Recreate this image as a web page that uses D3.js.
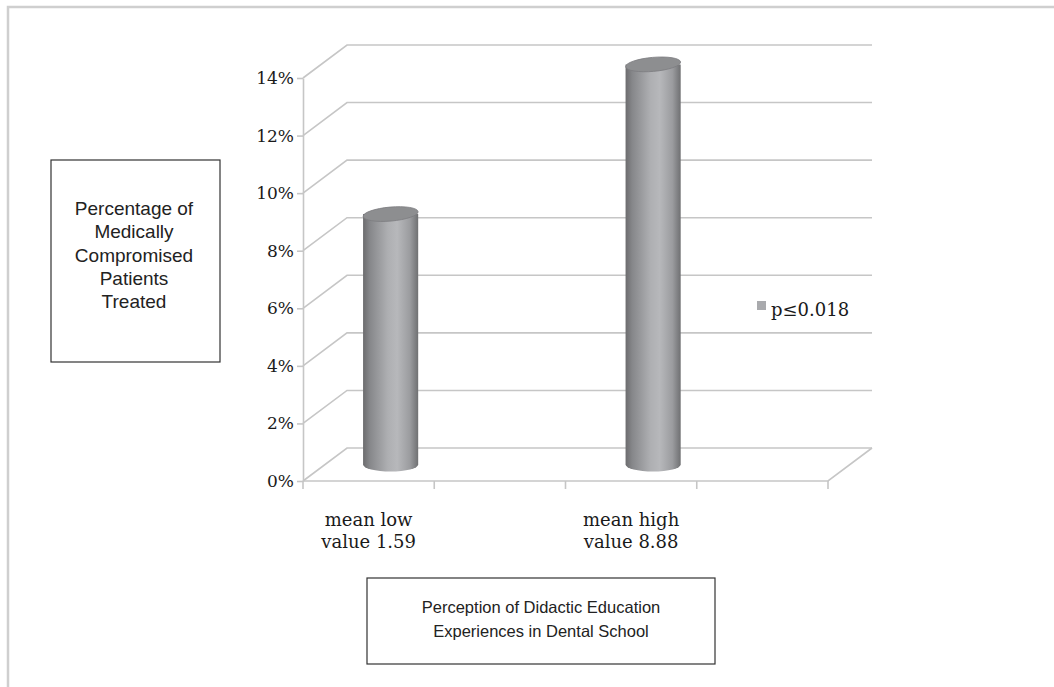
<!DOCTYPE html>
<html>
<head>
<meta charset="utf-8">
<script src="https://cdn.jsdelivr.net/npm/d3@7/dist/d3.min.js"></script>
<style>
  html, body { margin: 0; padding: 0; background: #fff; }
  svg { display: block; }
</style>
</head>
<body>
<svg id="chart" width="1054" height="687"></svg>
<script>
// ---- data ----
const categories = ["mean low|value 1.59", "", "mean high|value 8.88", ""];
const values = [0.087, null, 0.139, null];
const yTicks = [0, 0.02, 0.04, 0.06, 0.08, 0.10, 0.12, 0.14];
const seriesName = "p\u22640.018";
const yTitleLines = ["Percentage of", "Medically", "Compromised", "Patients", "Treated"];
const xTitleLines = ["Perception of Didactic Education", "Experiences in Dental School"];

// ---- layout ----
const svg = d3.select("#chart");
const X0 = 303, X1 = 828, Y0 = 481, Y1 = 78;
const DX = 44, DY = -33;           // 3D depth offset
const grid = "#c6c6c6";
const serif = "'DejaVu Serif', serif";
const sans = "'Liberation Sans', Arial, sans-serif";

const idx = categories.map((d, i) => i);
const x = d3.scaleBand().domain(idx).range([X0, X1]).padding(0);
const y = d3.scaleLinear().domain([0, 0.14]).range([Y0, Y1]);

// outer frame
svg.append("rect").attr("x", 8).attr("y", 7).attr("width", 1080).attr("height", 700)
  .attr("fill", "none").attr("stroke", "#cfcfcf").attr("stroke-width", 2.5);

// gradient for cylinders
const defs = svg.append("defs");
const g = defs.append("linearGradient").attr("id", "cyl").attr("x1", "0").attr("x2", "1").attr("y1", "0").attr("y2", "0");
[[0, "#6c6c6e"], [0.12, "#86878a"], [0.45, "#aeafb2"], [0.62, "#b7b8bb"], [0.85, "#9b9c9f"], [1, "#6f7072"]]
  .forEach(([o, c]) => g.append("stop").attr("offset", o).attr("stop-color", c));

// back wall & left wall gridlines
const gl = svg.append("g");
yTicks.forEach(t => {
  const yy = y(t);
  gl.append("polyline")
    .attr("points", `${X0},${yy} ${X0 + DX},${yy + DY} ${X1 + DX},${yy + DY}`)
    .attr("fill", "none").attr("stroke", grid).attr("stroke-width", 1.6);
});
// floor front edge & right edge
gl.append("polyline")
  .attr("points", `${X0},${Y0} ${X1},${Y0} ${X1 + DX},${Y0 + DY}`)
  .attr("fill", "none").attr("stroke", grid).attr("stroke-width", 1.6);

// y axis
const yAxis = svg.append("g").attr("transform", `translate(${X0},0)`)
  .call(d3.axisLeft(y).tickValues(yTicks).tickFormat(d3.format(".0%")).tickSize(6).tickSizeOuter(0).tickPadding(3));
yAxis.select(".domain").attr("stroke", grid).attr("stroke-width", 1.6);
yAxis.selectAll(".tick line").attr("stroke", grid).attr("stroke-width", 1.6);
yAxis.selectAll(".tick text").attr("font-family", serif).attr("font-size", 17).attr("fill", "#1a1a1a");

// category ticks at band boundaries
const bounds = idx.map(i => x(i)).concat([X1]);
svg.append("g").selectAll("line").data(bounds).join("line")
  .attr("x1", d => d).attr("x2", d => d).attr("y1", Y0).attr("y2", Y0 + 8)
  .attr("stroke", grid).attr("stroke-width", 1.6);

// category labels
const cl = svg.append("g");
categories.forEach((c, i) => {
  if (!c) return;
  const t = cl.append("text").attr("text-anchor", "middle")
    .attr("font-family", serif).attr("font-size", 18).attr("fill", "#1a1a1a");
  c.split("|").forEach((line, k) => {
    t.append("tspan").attr("x", x(i) + x.bandwidth() / 2).attr("y", 526 + k * 22).text(line);
  });
});

// cylinders
const bw = x.bandwidth() * 0.42, rx = bw / 2, ry = 7;
const bars = svg.append("g");
values.forEach((v, i) => {
  if (v == null) return;
  const cx = x(i) + x.bandwidth() / 2 + DX / 2;
  const topY = y(v) + DY / 2;
  const botY = y(0) + DY / 2;
  bars.append("path")
    .attr("d", `M${cx - rx},${topY} L${cx - rx},${botY} A${rx},${ry} 0 0 0 ${cx + rx},${botY} L${cx + rx},${topY} Z`)
    .attr("fill", "url(#cyl)");
  bars.append("ellipse")
    .attr("cx", cx).attr("cy", topY).attr("rx", rx).attr("ry", ry)
    .attr("transform", `rotate(-5,${cx},${topY})`)
    .attr("fill", "#8d8e90").attr("stroke", "#7c7d80").attr("stroke-width", 0.8);
});

// legend
const lg = svg.append("g");
lg.append("rect").attr("x", 757).attr("y", 301).attr("width", 9).attr("height", 9).attr("fill", "#a9aaad");
lg.append("text").attr("x", 771).attr("y", 316).attr("font-family", serif).attr("font-size", 18)
  .attr("fill", "#1a1a1a").text(seriesName);

// y title box
svg.append("rect").attr("x", 51).attr("y", 160).attr("width", 169).attr("height", 202)
  .attr("fill", "#fff").attr("stroke", "#333").attr("stroke-width", 1.2);
const yt = svg.append("text").attr("text-anchor", "middle").attr("font-family", sans)
  .attr("font-size", 19).attr("fill", "#222");
yTitleLines.forEach((l, k) => yt.append("tspan").attr("x", 134).attr("y", 215 + k * 23.3).text(l));

// x title box
svg.append("rect").attr("x", 367).attr("y", 578).attr("width", 348).attr("height", 86)
  .attr("fill", "#fff").attr("stroke", "#333").attr("stroke-width", 1.2);
const xt = svg.append("text").attr("text-anchor", "middle").attr("font-family", sans)
  .attr("font-size", 16.5).attr("fill", "#222");
xTitleLines.forEach((l, k) => xt.append("tspan").attr("x", 541).attr("y", 613 + k * 24).text(l));
</script>
</body>
</html>
